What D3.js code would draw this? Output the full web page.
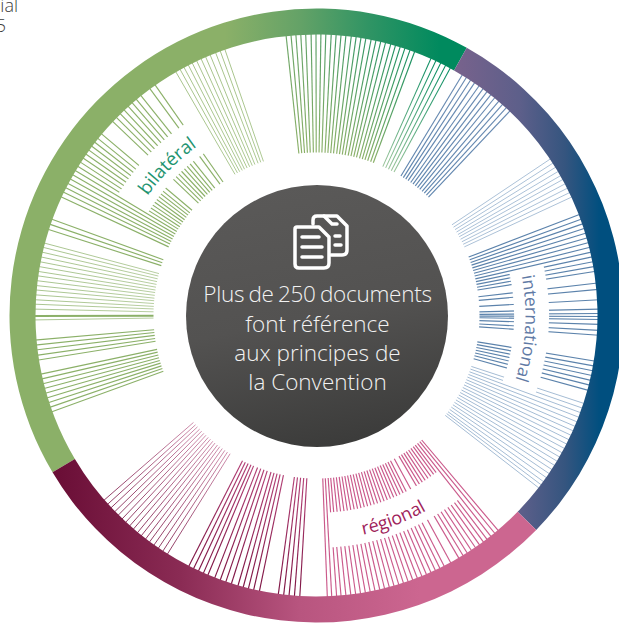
<!DOCTYPE html>
<html>
<head>
<meta charset="utf-8">
<script src="https://cdn.jsdelivr.net/npm/d3@7"></script>
<style>
  html, body { margin: 0; padding: 0; background: #fff; overflow: hidden; }
  svg { display: block; }
  text { font-family: "Open Sans", sans-serif; }
</style>
</head>
<body>
<svg width="619" height="623"></svg>
<script>
// document angles, degrees clockwise from 12 o'clock
var olivePale1 = [330.0, 331.0, 331.9, 332.9, 333.8, 334.8, 335.8, 336.8, 337.8, 339.0, 340.0, 341.0];
var oliveBlock = [294.9, 296.0, 297.0, 298.0, 299.0, 300.0, 301.0, 302.0, 303.0, 304.0, 305.0, 306.0, 307.0, 308.0, 309.0, 310.2,
  313.6, 314.7, 315.8, 316.9, 318.0, 319.1, 320.2, 321.4, 323.7, 325.0,
  287.8, 288.9, 290.0, 260.9, 261.9, 263.0, 264.0, 265.0,
  250.0, 251.0, 252.0, 253.0, 254.0, 255.0, 256.0, 257.0, 258.0];
var olivePale2 = [269.1, 271.3, 272.3, 273.2, 274.2, 275.2, 276.1, 277.1, 278.1, 279.0, 280.0, 281.0, 282.0, 283.0, 284.0, 284.9];
var oliveThick = [269.9];
var greenTop = [-6.2, -5.2, -4.2, -3.2, -2.2, -1.1, -0.1, 0.9, 1.9, 3.0, 4.0, 5.0, 6.0, 7.1, 8.1, 9.1, 10.1, 11.2, 12.2, 13.2, 14.2, 15.3, 16.3, 17.3, 18.3, 19.4, 20.4];
var greenShort = [24.0, 25.1, 26.2, 27.3, 28.4];
var blueMid = [31.2, 32.2, 33.2, 34.2, 35.3, 36.3, 37.3, 38.3, 39.3, 40.4, 41.4, 42.4, 43.4];
var bluePale1 = [56.2, 57.2, 58.2, 59.2, 60.2, 61.1, 62.1, 63.1, 64.1, 65.1];
var blueDark = [69.0, 70.0, 71.0, 72.0, 73.0, 74.0, 75.0, 76.0, 77.0, 78.0, 79.0, 80.0, 81.0,
  83.4, 84.7, 86.8, 88.7, 89.6, 90.2, 90.8, 91.8, 93.0, 94.0,
  99.3, 100.3, 101.3, 102.3, 103.3, 104.3, 105.4];
var bluePale2 = [108.2, 109.2, 110.2, 111.2, 112.2, 113.2, 114.2, 115.2, 116.2, 117.2, 118.2, 119.2, 120.2, 121.2, 122.2, 123.2, 124.2, 125.2, 126.2, 127.0, 127.8];
var pinkBlock = [139.8, 140.7, 141.7, 142.7, 143.6, 144.6, 145.6, 146.6, 147.6, 148.6, 149.6, 151.5,
  153.0, 154.0, 155.0, 156.0, 157.0, 158.0, 159.0, 160.0, 161.0, 162.0, 163.0, 164.0, 165.0, 166.0, 167.0, 168.0, 169.0, 170.0, 171.0, 172.0, 173.0, 174.0, 175.0, 175.9, 176.9, 177.8];
var maroonDark = [183.4, 184.5, 185.6, 186.7, 187.8, 191.7, 192.9, 194.0, 195.1, 196.2, 197.6, 198.8, 200.0, 201.2, 202.7, 203.7, 204.8, 205.9, 207.0];
var maroonPale = [212.0, 213.1, 214.2, 215.3, 216.4, 217.4, 218.5, 219.5, 220.6, 221.6, 222.7, 223.7, 224.8, 225.8, 226.9, 227.9, 229.0];

// three ring sectors and the cut-outs holding the labels
var categories = ["bilatéral", "international", "régional"];
var ringStart = [239.3, 29.3, 134.3];
var ringEnd = [389.3, 134.3, 239.3];
var labelStart = [301.5, 77.5, 142.2];
var labelEnd = [325.8, 109.7, 176.4];
var labelMid = [315, 93.5, 159.3];

var centerLines = ["Plus de 250 documents", "font référence", "aux principes de", "la Convention"];

var cx = 316.5, cy = 315.5;
var rOuter = 307, rInner = 281, rLineIn = 163, rBandIn = 197.5, rBandOut = 232.5, rHub = 131;

var svg = d3.select("svg");
var defs = svg.append("defs");
var g = svg.append("g").attr("transform", "translate(" + cx + "," + cy + ")");

var angle = d3.scaleLinear().domain([0, 360]).range([0, 2 * Math.PI]);
var radius = d3.scaleLinear().domain([0, 1]).range([rLineIn, rInner + 2]);

// ring colours run left to right across the page
var ringColor = [
  d3.scaleLinear().domain([225, 300, 370, 440]).range(["#8bb068", "#64a267", "#2f9464", "#008a5e"]).clamp(true),
  d3.scaleLinear().domain([460, 520, 565, 600]).range(["#76628c", "#5d5f8a", "#35557f", "#004f7f"]).clamp(true),
  d3.scaleLinear().domain([60, 180, 300, 420]).range(["#6b0f37", "#8a2b54", "#b8557f", "#cc6690"]).clamp(true)
];

function ringGradient(i) {
  var scale = ringColor[i];
  var dom = scale.domain();
  var grad = defs.append("linearGradient").attr("id", "ring" + i)
    .attr("gradientUnits", "userSpaceOnUse")
    .attr("x1", dom[0] - cx).attr("x2", dom[dom.length - 1] - cx)
    .attr("y1", 0).attr("y2", 0);
  dom.forEach(function (d) {
    grad.append("stop")
      .attr("offset", (d - dom[0]) / (dom[dom.length - 1] - dom[0]))
      .attr("stop-color", scale(d));
  });
}
categories.forEach(function (c, i) { ringGradient(i); });

var radialLine = d3.lineRadial()
  .angle(function (d) { return angle(d[0]); })
  .radius(function (d) { return radius(d[1]); });

// each group: values, then inner colour, outer colour (ring = take the ring colour), stroke width
var groups = [
  { values: olivePale1, inner: "#a9c68d", outer: "#a3c085", w: 0.95 },
  { values: oliveBlock, inner: "#8bb068", outer: "#8bb068", w: 1.15 },
  { values: olivePale2, inner: "#b4cc9c", outer: "#a4c189", w: 0.95 },
  { values: oliveThick, inner: "#8bb068", outer: "#8bb068", w: 2 },
  { values: greenTop, inner: "#8bb068", ring: 0, w: 1.15 },
  { values: greenShort, inner: "#9ac49a", ring: 0, w: 1.05 },
  { values: blueMid, inner: "#5f85ae", outer: "#6a8bb2", w: 1.15 },
  { values: bluePale1, inner: "#a2bad3", outer: "#a2bad3", w: 0.9 },
  { values: blueDark, inner: "#5b82ab", outer: "#5b82ab", w: 1.15 },
  { values: bluePale2, inner: "#9ab4cf", outer: "#9ab4cf", w: 0.9 },
  { values: pinkBlock, inner: "#c9588a", outer: "#cb5a8b", w: 1.15 },
  { values: maroonDark, inner: "#b34076", outer: "#7c1342", w: 1.15 },
  { values: maroonPale, inner: "#cf8fad", outer: "#8f3b63", w: 1 }
];

var lineCount = 0;
groups.forEach(function (group) {
  group.values.forEach(function (a) {
    var id = "line" + (lineCount++);
    var rad = angle(a);
    var outX = Math.sin(rad) * radius(1), outY = -Math.cos(rad) * radius(1);
    var inX = Math.sin(rad) * radius(0), inY = -Math.cos(rad) * radius(0);
    var outerCol = group.ring !== undefined ? ringColor[group.ring](outX + cx) : group.outer;

    var grad = defs.append("linearGradient").attr("id", id)
      .attr("gradientUnits", "userSpaceOnUse")
      .attr("x1", inX).attr("y1", inY).attr("x2", outX).attr("y2", outY);
    grad.append("stop").attr("offset", 0).attr("stop-color", group.inner);
    grad.append("stop").attr("offset", 1).attr("stop-color", outerCol);

    g.append("path")
      .attr("d", radialLine([[a, 0], [a, 1]]))
      .attr("fill", "none")
      .attr("stroke", "url(#" + id + ")")
      .attr("stroke-width", group.w);
  });
});

// white cut-outs behind the labels
var bandArc = d3.arc().innerRadius(rBandIn).outerRadius(rBandOut);
categories.forEach(function (c, i) {
  g.append("path")
    .attr("d", bandArc({ startAngle: angle(labelStart[i]), endAngle: angle(labelEnd[i]) }))
    .attr("fill", "#fff");
});

// outer ring
var ringArc = d3.arc().innerRadius(rInner).outerRadius(rOuter);
categories.forEach(function (c, i) {
  g.append("path")
    .attr("d", ringArc({ startAngle: angle(ringStart[i]), endAngle: angle(ringEnd[i]) }))
    .attr("fill", "url(#ring" + i + ")");
});

// curved labels
var labelRadius = [207, 209, 224];
var labelColor = ["#1f9470", "#5f7aa5", "#a01f5c"];
var labelSpan = [40, 60, 40];
var labelClockwise = [true, true, false];
var labelSize = [18.5, 17.5, 18];
categories.forEach(function (c, i) {
  var a0 = angle(labelMid[i] - labelSpan[i]) - Math.PI / 2;
  var a1 = angle(labelMid[i] + labelSpan[i]) - Math.PI / 2;
  var p = d3.path();
  if (labelClockwise[i]) {
    p.arc(0, 0, labelRadius[i], a0, a1, false);
  } else {
    p.arc(0, 0, labelRadius[i], a1, a0, true);
  }
  defs.append("path").attr("id", "label" + i).attr("d", p.toString());
  g.append("text")
    .attr("font-size", labelSize[i])
    .attr("fill", labelColor[i])
    .append("textPath")
    .attr("href", "#label" + i)
    .attr("startOffset", "50%")
    .attr("text-anchor", "middle")
    .text(c);
});

// hub
var hubGrad = defs.append("linearGradient").attr("id", "hub")
  .attr("x1", 0.4).attr("y1", 0).attr("x2", 0.6).attr("y2", 1);
hubGrad.append("stop").attr("offset", 0).attr("stop-color", "#5a5958");
hubGrad.append("stop").attr("offset", 0.5).attr("stop-color", "#535251");
hubGrad.append("stop").attr("offset", 1).attr("stop-color", "#3b3b3a");
g.append("circle").attr("r", rHub).attr("cx", 0.5).attr("cy", 0.5).attr("fill", "url(#hub)");

// documents icon
var icon = svg.append("g")
  .attr("fill", "none").attr("stroke", "#fff").attr("stroke-width", 3.5)
  .attr("stroke-linejoin", "round").attr("stroke-linecap", "round");
icon.append("path").attr("d", "M313 224V220Q313 216 317 216H337L347 226V250Q347 255 342 255H331");
icon.append("path").attr("d", "M324 216L332 224H337");
icon.append("path").attr("d", "M335 236H340M335 245H341");
icon.append("path").attr("d", "M297 227H319L329 237V263Q329 268 324 268H299Q295 268 295 264V229Q295 227 297 227Z")
  .attr("fill", "#535251");
icon.append("path").attr("d", "M302 237H319M302 247H322M302 257H322");

svg.append("g").selectAll("text").data(centerLines).enter().append("text")
  .attr("x", 317.5)
  .attr("y", function (d, i) { return [302, 332, 361, 390][i]; })
  .attr("text-anchor", "middle")
  .attr("font-size", 22.5)
  .attr("font-weight", 300)
  .attr("word-spacing", function (d, i) { return i === 0 ? -1.4 : 0; })
  .attr("letter-spacing", function (d, i) { return i === 0 ? -0.25 : 0; })
  .attr("fill", "#f2f2f2")
  .text(function (d) { return d; });

// clipped note in the top-left corner
svg.append("text").attr("x", 18).attr("y", 12).attr("text-anchor", "end")
  .attr("font-size", 18).attr("font-weight", 300).attr("fill", "#3c3c3b").text("ial");
svg.append("text").attr("x", 6).attr("y", 32).attr("text-anchor", "end")
  .attr("font-size", 18).attr("font-weight", 300).attr("fill", "#3c3c3b").text("5");
</script>
</body>
</html>
